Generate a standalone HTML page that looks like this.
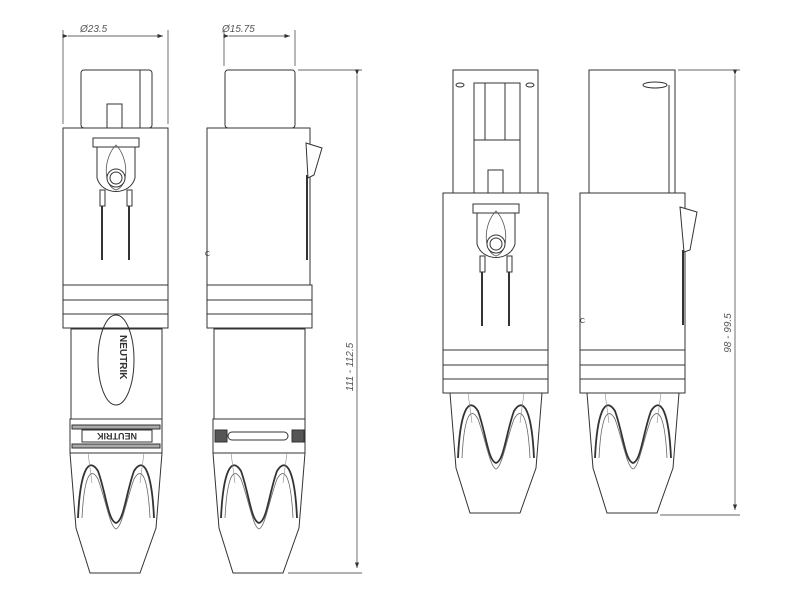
<!DOCTYPE html>
<html><head><meta charset="utf-8"><style>html,body{margin:0;padding:0;background:#fff}svg{display:block}</style></head>
<body>
<svg width="800" height="600" viewBox="0 0 800 600" xmlns="http://www.w3.org/2000/svg" font-family="Liberation Sans, sans-serif">
<defs>
<marker id="ar" markerWidth="8" markerHeight="6" refX="8" refY="3" orient="auto"><path d="M0,0 L8,3 L0,6 z" fill="#333"/></marker>
<g id="boot">
<path d="M0,0 L92,0 L86,75 L70,120 L20,120 L6,75 Z" fill="#fff" stroke="#333" stroke-width="1"/>
<path d="M8,65 C10,20 18,2 28,18 C36,40 38,68 46,70 C54,68 56,40 64,18 C74,2 82,20 84,65" fill="none" stroke="#333" stroke-width="1.8"/>
<path d="M12,65 C14,25 20,12 28,26 C36,48 40,74 46,76 C52,74 56,48 64,26 C72,12 78,25 80,65" fill="none" stroke="#666" stroke-width="0.8"/>
<line x1="18" y1="0" x2="22" y2="30" stroke="#888" stroke-width="0.6"/>
<line x1="74" y1="0" x2="70" y2="30" stroke="#888" stroke-width="0.6"/>
</g>
<g id="rings">
<rect x="0" y="0" width="105" height="15" fill="#fff" stroke="#333"/>
<rect x="0" y="15" width="105" height="14" fill="#fff" stroke="#333"/>
<rect x="0" y="29" width="105" height="14" fill="#fff" stroke="#333"/>
</g>
<g id="latch">
<rect x="-23" y="0" width="46" height="9" fill="#fff" stroke="#333"/>
<path d="M-19,9 L-19,40 C-14,58 14,58 19,40 L19,9" fill="none" stroke="#333"/>
<path d="M0,7 C-13,20 -13,48 0,52 C13,48 13,20 0,7Z" fill="none" stroke="#555" stroke-width="0.8"/>
<circle cx="0" cy="40" r="9" fill="#fff" stroke="#333"/>
<circle cx="0" cy="40" r="6" fill="none" stroke="#333"/>
<rect x="-16" y="52" width="5" height="16" fill="#fff" stroke="#333"/>
<rect x="11" y="52" width="5" height="16" fill="#fff" stroke="#333"/>
<line x1="-14" y1="68" x2="-14" y2="122" stroke="#333" stroke-width="2"/>
<line x1="13" y1="68" x2="13" y2="122" stroke="#333" stroke-width="2"/>
</g>
</defs>
<g stroke="#333" stroke-width="1" fill="#fff">

<!-- A -->
<rect x="81" y="70" width="71" height="58" rx="3"/>
<line x1="140" y1="70" x2="140" y2="128"/>
<rect x="107" y="104" width="15" height="24"/>
<rect x="63" y="128" width="105" height="157"/>
<use href="#latch" x="116" y="138"/>
<use href="#rings" x="63" y="285"/>
<rect x="71" y="329" width="91" height="90"/>
<ellipse cx="116" cy="360" rx="18" ry="45" fill="none"/>
<text x="120" y="335" font-size="10" font-weight="bold" transform="rotate(90 120 335)" fill="#333" stroke="none">NEUTRIK</text>
<rect x="70" y="419" width="92" height="34"/>
<rect x="72" y="425" width="88" height="4" fill="#aaa"/>
<rect x="82" y="430" width="70" height="12"/>
<text x="117" y="439" font-size="9" font-weight="bold" text-anchor="middle" fill="#333" stroke="none" transform="rotate(180 117 436)">NEUTRIK</text>
<rect x="72" y="444" width="88" height="4" fill="#aaa"/>
<use href="#boot" x="70" y="453"/>

<!-- B -->
<rect x="225" y="70" width="70" height="58" rx="3"/>
<rect x="207" y="128" width="103" height="157"/>
<path d="M306,143 L322,148 L314,175 L308,178 Z"/>
<line x1="307" y1="175" x2="307" y2="260" stroke-width="2"/>
<text x="205" y="256" font-size="7" fill="#333" stroke="none">C</text>
<use href="#rings" x="207" y="285"/>
<rect x="214" y="329" width="91" height="90"/>
<rect x="213" y="419" width="92" height="34"/>
<rect x="228" y="432" width="60" height="8" rx="4"/>
<rect x="215" y="430" width="12" height="12" fill="#555"/>
<rect x="292" y="430" width="12" height="12" fill="#555"/>
<use href="#boot" x="213" y="453"/>

<!-- C -->
<rect x="453" y="70" width="85" height="123"/>
<rect x="474" y="83" width="46" height="110"/>
<line x1="485" y1="83" x2="485" y2="140"/><line x1="505" y1="83" x2="505" y2="140"/>
<line x1="474" y1="140" x2="520" y2="140"/>
<ellipse cx="460" cy="85" rx="4" ry="2"/><ellipse cx="530" cy="85" rx="4" ry="2"/>
<rect x="488" y="170" width="15" height="23"/>
<rect x="443" y="193" width="105" height="157"/>
<use href="#latch" x="496" y="204"/>
<use href="#rings" x="443" y="350"/>
<use href="#boot" x="450" y="393"/>

<!-- D -->
<path d="M589,70 L675,70 L675,193 L589,193 Z"/>
<ellipse cx="655" cy="85" rx="12" ry="3"/>
<line x1="669" y1="85" x2="669" y2="193"/>
<rect x="580" y="193" width="105" height="157"/>
<path d="M680,207 L697,212 L690,250 L684,252 Z"/>
<line x1="683" y1="250" x2="683" y2="325" stroke-width="2"/>
<text x="580" y="323" font-size="7" fill="#333" stroke="none">C</text>
<use href="#rings" x="580" y="350"/>
<use href="#boot" x="587" y="393"/>

<!-- dims -->
<g stroke-width="0.7" fill="none">
<line x1="63" y1="30" x2="63" y2="124"/><line x1="168" y1="30" x2="168" y2="124"/>
<line x1="68" y1="36" x2="163" y2="36" marker-start="url(#ar)" marker-end="url(#ar)"/>
<line x1="224" y1="30" x2="224" y2="66"/><line x1="295" y1="30" x2="295" y2="66"/>
<line x1="229" y1="36" x2="290" y2="36" marker-start="url(#ar)" marker-end="url(#ar)"/>
<line x1="298" y1="70" x2="362" y2="70"/><line x1="288" y1="573" x2="362" y2="573"/>
<line x1="357" y1="75" x2="357" y2="568" marker-start="url(#ar)" marker-end="url(#ar)"/>
<line x1="678" y1="70" x2="740" y2="70"/><line x1="660" y1="515" x2="740" y2="515"/>
<line x1="735" y1="75" x2="735" y2="510" marker-start="url(#ar)" marker-end="url(#ar)"/>
</g>
</g>
<g fill="#555" font-size="10" font-style="italic">
<text x="80" y="32">Ø23.5</text>
<text x="222" y="32">Ø15.75</text>
<text x="353" y="367" text-anchor="middle" transform="rotate(-90 353 367)">111  -  112.5</text>
<text x="731" y="333" text-anchor="middle" transform="rotate(-90 731 333)">98  -  99.5</text>
</g>
</svg>
</body></html>
